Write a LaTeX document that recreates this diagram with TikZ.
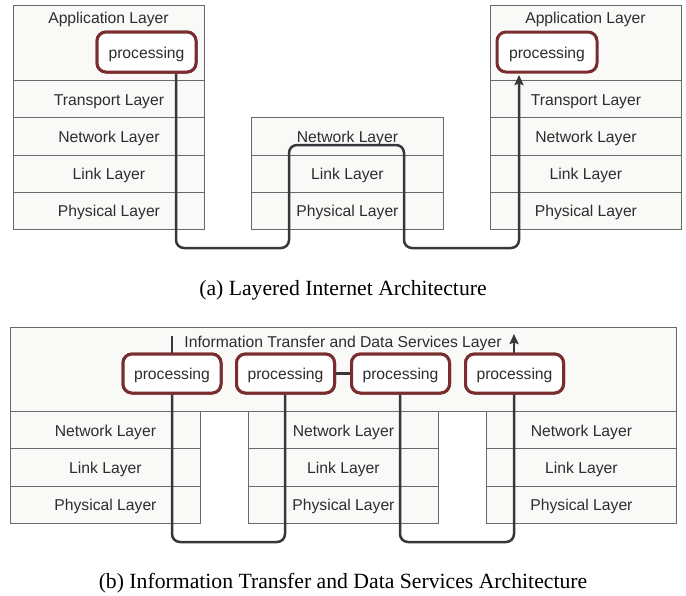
\documentclass[tikz,border=0pt]{standalone}
\usepackage{fontspec}
\setmainfont{Liberation Sans}
\newfontfamily\capfont{Liberation Serif}
\usetikzlibrary{arrows.meta}
\definecolor{cellfill}{RGB}{249,249,247}
\definecolor{cellline}{RGB}{105,105,105}
\definecolor{procred}{RGB}{122,45,47}
\definecolor{connc}{RGB}{55,55,60}
\definecolor{txt}{RGB}{45,45,45}
\tikzset{
  cell/.style={draw=cellline, fill=cellfill, line width=0.9pt, inner sep=0pt, anchor=north west,
    text=txt, text height=15.5pt, text depth=3.5pt, font=\fontsize{15.7}{18}\selectfont},
  proc/.style={draw=procred, fill=white, line width=3pt, rounded corners=9pt, inner sep=0pt,
    text=txt, text height=15.5pt, text depth=3.5pt,
    minimum width=98pt, minimum height=39pt, font=\fontsize{15.7}{18}\selectfont},
  lbl/.style={inner sep=0pt, text=txt, font=\fontsize{15.7}{18}\selectfont},
  conn/.style={draw=connc, line width=2.5pt, rounded corners=8pt},
  tip/.style={-{Stealth[length=10pt,width=9pt,inset=1.5pt]}},
  caption/.style={inner sep=0pt, font=\capfont\fontsize{21.7}{24}\selectfont}
}
\begin{document}
\begin{tikzpicture}[x=1pt,y=-1pt]
\useasboundingbox (0,0) rectangle (686,595);
% ---------- (a) ----------
% left host
\node[cell, minimum width=191, minimum height=75] (LA) at (13,5) {};
\node[lbl] (LAt) at (108.5,19.5) {Application Layer};
\node[cell, minimum width=191, minimum height=37.25] (LT) at (13,80) {Transport Layer};
\node[cell, minimum width=191, minimum height=37.25] (LN) at (13,117.25) {Network Layer};
\node[cell, minimum width=191, minimum height=37.25] (LL) at (13,154.5) {Link Layer};
\node[cell, minimum width=191, minimum height=37.25] (LP) at (13,191.75) {Physical Layer};
% middle router
\node[cell, minimum width=192, minimum height=37.25] (MN) at (251,117.25) {Network Layer};
\node[cell, minimum width=192, minimum height=37.25] (ML) at (251,154.5) {Link Layer};
\node[cell, minimum width=192, minimum height=37.25] (MP) at (251,191.75) {Physical Layer};
% right host
\node[cell, minimum width=191, minimum height=75] (RA) at (490,5) {};
\node[lbl] (RAt) at (585.5,19.5) {Application Layer};
\node[cell, minimum width=191, minimum height=37.25] (RT) at (490,80) {Transport Layer};
\node[cell, minimum width=191, minimum height=37.25] (RN) at (490,117.25) {Network Layer};
\node[cell, minimum width=191, minimum height=37.25] (RL) at (490,154.5) {Link Layer};
\node[cell, minimum width=191, minimum height=37.25] (RP) at (490,191.75) {Physical Layer};
% route
\coordinate (a1) at (176,248);
\coordinate (a2) at (289,248);
\coordinate (a3) at (289,145);
\coordinate (a4) at (404,145);
\coordinate (a5) at (404,248);
\coordinate (a6) at (519,248);
\node[proc, minimum width=99, minimum height=40] (p1) at (146.5,52) {processing};
\node[proc, minimum width=100, minimum height=40] (p2) at (547,52) {processing};
\draw[conn, tip] (p1.south -| a1) -- (a1) -- (a2) -- (a3) -- (a4) -- (a5) -- (a6) -- ([yshift=-1.5pt]p2.south -| a6);
\node[proc, minimum width=99, minimum height=40] at (p1) {processing};
\node[caption] (capa) at (343,290) {(a) Layered Internet Architecture};
% ---------- (b) ----------
\node[cell, minimum width=666, minimum height=84] (IT) at (10,327) {};
\node[lbl] (ITt) at (343,343.5) {Information Transfer and Data Services Layer};
\node[cell, minimum width=190, minimum height=37.33] (BN1) at (10,411) {Network Layer};
\node[cell, minimum width=190, minimum height=37.33] (BL1) at (10,448.33) {Link Layer};
\node[cell, minimum width=190, minimum height=37.33] (BP1) at (10,485.67) {Physical Layer};
\node[cell, minimum width=190, minimum height=37.33] (BN2) at (248,411) {Network Layer};
\node[cell, minimum width=190, minimum height=37.33] (BL2) at (248,448.33) {Link Layer};
\node[cell, minimum width=190, minimum height=37.33] (BP2) at (248,485.67) {Physical Layer};
\node[cell, minimum width=190, minimum height=37.33] (BN3) at (486,411) {Network Layer};
\node[cell, minimum width=190, minimum height=37.33] (BL3) at (486,448.33) {Link Layer};
\node[cell, minimum width=190, minimum height=37.33] (BP3) at (486,485.67) {Physical Layer};
\node[proc] (q1) at (172,373.5) {processing};
\node[proc] (q2) at (285.5,373.5) {processing};
\node[proc] (q3) at (400.5,373.5) {processing};
\node[proc] (q4) at (514.5,373.5) {processing};
\coordinate (b0) at (172,336);
\coordinate (b1) at (172,542);
\coordinate (b2) at (285,542);
\coordinate (b3) at (400,542);
\coordinate (b4) at (514,542);
\coordinate (b5) at (514,334);
\draw[conn] (b0) -- (q1.north -| b0);
\draw[conn] (q1.south -| b1) -- (b1) -- (b2) -- (q2.south -| b2);
\draw[conn] (q2.east) -- (q3.west);
\draw[conn] (q3.south -| b3) -- (b3) -- (b4) -- (q4.south -| b4);
\draw[conn, tip] (q4.north -| b5) -- (b5);
\node[proc] at (q1) {processing};
\node[proc] at (q2) {processing};
\node[proc] at (q3) {processing};
\node[proc] at (q4) {processing};
\node[caption] (capb) at (343,583) {(b) Information Transfer and Data Services Architecture};
\end{tikzpicture}
\end{document}
